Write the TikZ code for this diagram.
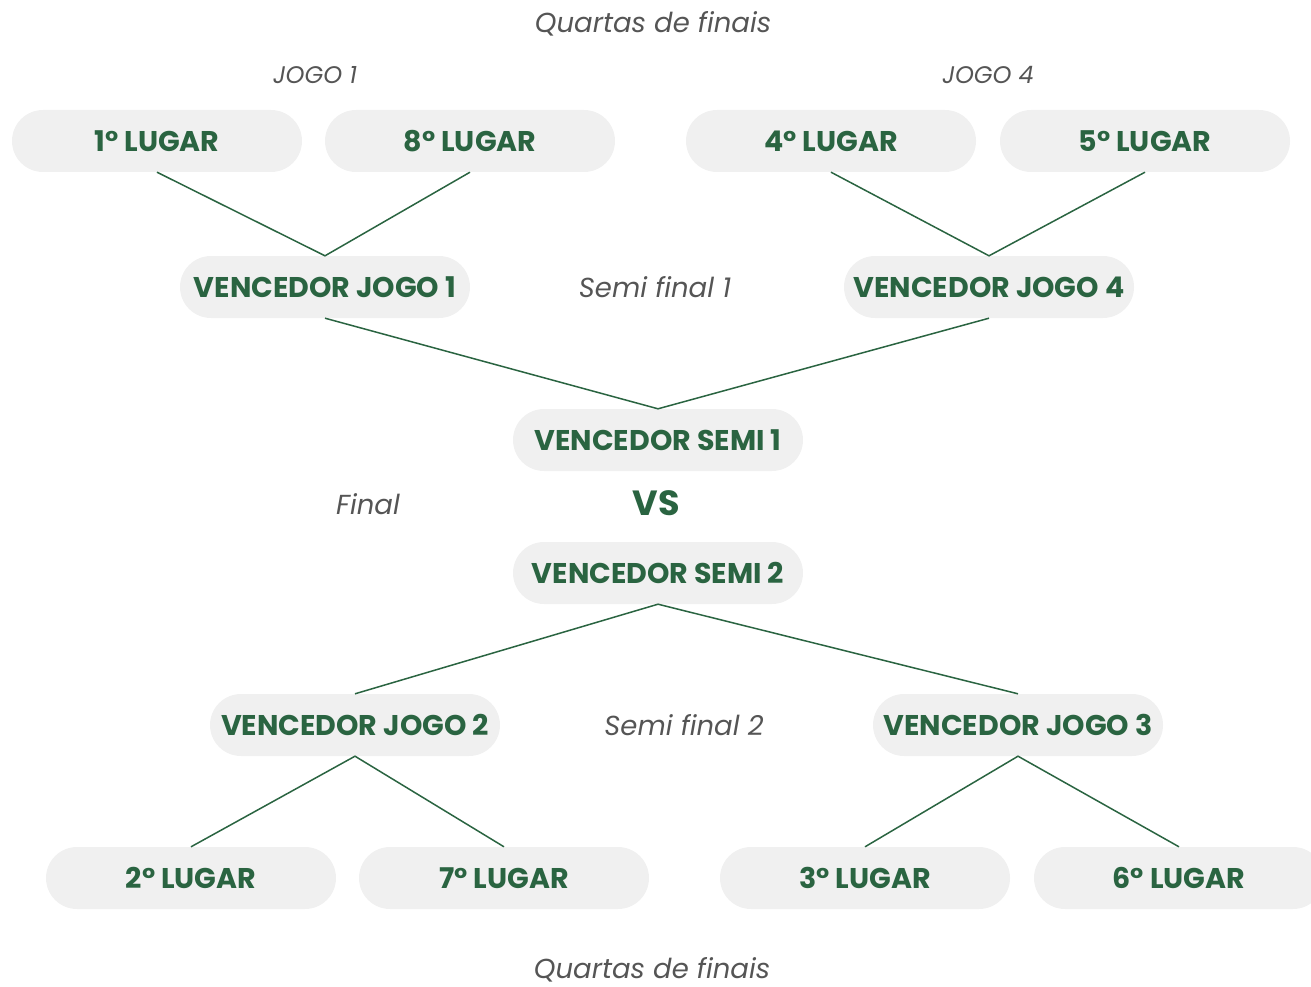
\documentclass[tikz,border=0pt]{standalone}
\usepackage{fontspec}
\setmainfont{Poppins}
\definecolor{chavegreen}{HTML}{2A6441}
\definecolor{chavebox}{HTML}{F0F0F0}
\definecolor{chavegray}{HTML}{555555}

\begin{document}
\begin{tikzpicture}[x=1pt,y=-1pt,
    team/.style={fill=chavebox,rounded corners=31pt,minimum width=290pt,
      minimum height=62pt,inner sep=0pt,text=chavegreen,
      font=\fontsize{28.5}{32}\selectfont\bfseries},
    phase/.style={text=chavegray,font=\fontsize{27.5}{32}\selectfont\itshape},
    game/.style={text=chavegray,font=\fontsize{24}{28}\selectfont\itshape},
    link/.style={draw=chavegreen,line width=1.5pt}]

  \useasboundingbox (0,0) rectangle (1311,987);

  % quartas de cima
  \node[team] (p1) at (157,141) {1° LUGAR};
  \node[team] (p8) at (470,141) {8° LUGAR};
  \node[team] (p4) at (831,141) {4° LUGAR};
  \node[team] (p5) at (1145,141) {5° LUGAR};
  \node[team] (v1) at (325,287) {VENCEDOR JOGO 1};
  \node[team] (v4) at (989,287) {VENCEDOR JOGO 4};

  % final
  \node[team] (s1) at (658,440) {VENCEDOR SEMI 1};
  \node[text=chavegreen,font=\fontsize{35}{40}\selectfont\bfseries] (vs) at (656,503) {VS};
  \node[team] (s2) at (658,573) {VENCEDOR SEMI 2};

  % quartas de baixo
  \node[team] (v2) at (355,725) {VENCEDOR JOGO 2};
  \node[team] (v3) at (1018,725) {VENCEDOR JOGO 3};
  \node[team] (p2) at (191,878) {2° LUGAR};
  \node[team] (p7) at (504,878) {7° LUGAR};
  \node[team] (p3) at (865,878) {3° LUGAR};
  \node[team] (p6) at (1179,878) {6° LUGAR};

  % rotulos
  \node[phase] (qtop) at (653,24) {Quartas de finais};
  \node[phase] (qbot) at (652,970) {Quartas de finais};
  \node[game] (g1) at (315,75) {JOGO 1};
  \node[game] (g4) at (988,75) {JOGO 4};
  \node[phase] (sf1) at (655,287) {Semi final 1};
  \node[phase] (fin) at (368,504) {Final};
  \node[phase] (sf2) at (684,725) {Semi final 2};

  \draw[link]
  (p1.south) -- (v1.north) -- (p8.south)
  (p4.south) -- (v4.north) -- (p5.south)
  (v1.south) -- (s1.north) -- (v4.south)
  (v2.north) -- (s2.south) -- (v3.north)
  (p2.north) -- (v2.south) -- (p7.north)
  (p3.north) -- (v3.south) -- (p6.north);

\end{tikzpicture}
\end{document}
